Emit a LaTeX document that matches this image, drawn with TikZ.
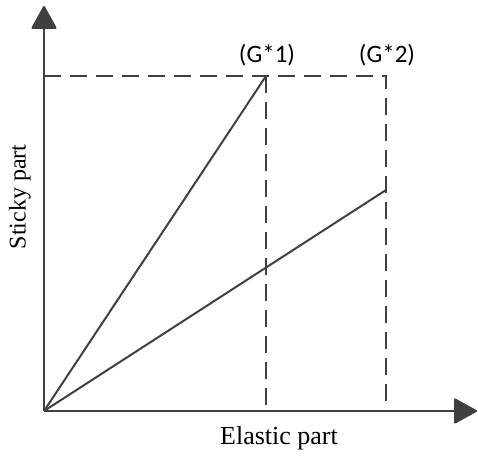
\documentclass[tikz,border=0pt]{standalone}
\usepackage{fontspec}
\setmainfont{Liberation Serif}
\newfontfamily\calib{Carlito}
\usetikzlibrary{arrows.meta}
\definecolor{ln}{HTML}{404040}
\begin{document}
\begin{tikzpicture}[x=1pt,y=-1pt,
  axis/.style={draw=ln,line width=2pt,-{Triangle[length=24pt,width=26pt,round=false]}},
  solidline/.style={draw=ln,line width=2pt},
  dashline/.style={draw=ln,line width=2pt,dash pattern=on 17pt off 9pt},
  glabel/.style={font=\calib\fontsize{25}{27}\selectfont,text=black,inner sep=0pt},
  axlabel/.style={font=\fontsize{26}{28}\selectfont,text=black,inner sep=0pt}]
\useasboundingbox (0,0) rectangle (478,456);
\coordinate (O) at (44,411);
\coordinate (ytip) at (44,6);
\coordinate (xtip) at (477,411);
\coordinate (ytop) at (44,76);
\coordinate (p1) at (266,76);
\coordinate (p2) at (386,76);
\coordinate (b1) at (266,411);
\coordinate (b2) at (386,411);
\coordinate (q2) at (386,190);
\draw[dashline] (ytop) -- (p2) -- (b2);
\draw[dashline] (p1) -- (b1);
\draw[solidline] (O) -- (p1);
\draw[solidline] (O) -- (q2);
\draw[axis] (O) -- (ytip);
\draw[axis] (O) -- (xtip);
\node[glabel] (g1) at (267,55) {(G*1)};
\node[glabel] (g2) at (387,55) {(G*2)};
\node[axlabel] (xl) at (279,438) {Elastic part};
\node[axlabel,font=\fontsize{24}{26}\selectfont,rotate=90] (yl) at (20,197) {Sticky part};
\end{tikzpicture}
\end{document}
